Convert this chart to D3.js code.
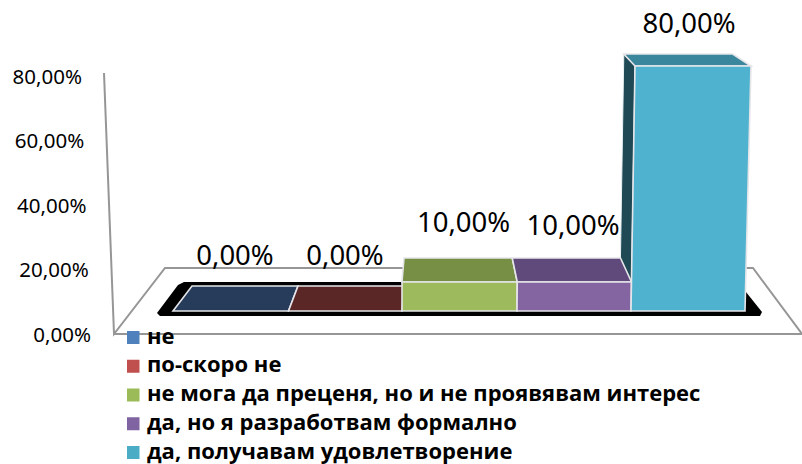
<!DOCTYPE html>
<html><head><meta charset="utf-8">
<script src="https://cdn.jsdelivr.net/npm/d3@7"></script>
<style>html,body{margin:0;padding:0;background:#fff}svg{display:block}
text{font-family:"Noto Sans",sans-serif;fill:#000}</style></head>
<body><svg id="c" width="802" height="464"></svg>
<script>
const categories=["не","по-скоро не","не мога да преценя, но и не проявявам интерес","да, но я разработвам формално","да, получавам удовлетворение"];
const values=[0,0,10,10,80];
const valueLabels=["0,00%","0,00%","10,00%","10,00%","80,00%"];
const tickValues=[0,20,40,60,80];
const swatch=["#4F81BD","#C0504D","#9BBB59","#8064A2","#4BACC6"];
const frontCol=["#4F81BD","#C0504D","#9DBB5C","#8465A1","#4FB2CE"];
const topCol=["#263C5A","#5B2626","#768F44","#604A7B","#3A869D"];
const sideCol=["#1F3045","#451D1D","#5A6E34","#4A395F","#1F4A55"];
const edgeIdx=[0,1,2,3,4,5];
const frontEdges=[173,288.5,402,517,631,745];
const backEdges=[192,298,404,512,620,727];

const svg=d3.select("#c");
const frontX=d3.scaleOrdinal(edgeIdx,frontEdges);
const backX=d3.scaleOrdinal(edgeIdx,backEdges);
const frontY=d3.scaleLinear([0,10,80],[311,282,66]);
const backY=d3.scaleLinear([0,10,80],[286,258,54]);
const persp=d3.scaleLinear([0,80],[0,0.0175]);
const px=(x,v)=>x+(x-403)*persp(v);
const line=d3.line();
const grey="#969696";

// walls and floor
svg.append("path").attr("d",line([[104,73],[114,334],[165,268],[405,268]])).attr("fill","none").attr("stroke",grey).attr("stroke-width",2);
svg.append("path").attr("d",line([[745,268],[753,268],[802,334],[114,334]])).attr("fill","none").attr("stroke",grey).attr("stroke-width",2);
// base shadow
svg.append("path").attr("d",line([[157,313],[178,285],[184,282],[740,282],[746,292],[762,312],[760,316],[160,316]])+"Z").attr("fill","#000");

// y axis
const y=d3.scaleLinear([0,80],[335,77]);
const tickX=d3.scaleLinear([0,80],[91,82]);
const ax=svg.append("g").call(d3.axisLeft(y).tickValues(tickValues).tickSize(0).tickPadding(0).tickFormat(d=>d3.format(".2f")(d).replace(".",",")+"%"));
ax.select(".domain").remove();
ax.selectAll(".tick").attr("transform",d=>`translate(${tickX(d)},${y(d)})`);
ax.selectAll("text").style("font-family",'"Noto Sans",sans-serif').style("font-size","20.5px").attr("fill","#000").attr("x",0).attr("dy","0.34em");

// bars
const idx=d3.range(values.length);
const g=svg.append("g");
const pt=i=>{const v=values[i];return {
  fl:[px(frontX(i),v),frontY(v)],fr:[px(frontX(i+1),v),frontY(v)],
  bl:[px(backX(i),v),backY(v)],br:[px(backX(i+1),v),backY(v)],
  fl0:[frontX(i),frontY(0)],fr0:[frontX(i+1),frontY(0)],bl0:[backX(i),backY(0)]};};
g.selectAll(".side").data(idx.filter(i=>values[i]>=80)).join("path").attr("class","side")
 .attr("d",i=>{const p=pt(i);return line([p.bl,p.bl0,p.fl0,p.fl])+"Z";}).attr("fill",i=>sideCol[i]).attr("stroke","#e8f0f2").attr("stroke-width",1);
const st={stroke:"#e6e6ea","stroke-width":1.6};
g.selectAll(".top").data(idx).join("path").attr("class","top")
 .attr("d",i=>{const p=pt(i);return line([p.bl,p.br,p.fr,p.fl])+"Z";}).attr("fill",i=>topCol[i]).attr("stroke",st.stroke).attr("stroke-width",st["stroke-width"]);
g.selectAll(".front").data(idx.filter(i=>values[i]>0)).join("path").attr("class","front")
 .attr("d",i=>{const p=pt(i);return line([p.fl,p.fr,p.fr0,p.fl0])+"Z";}).attr("fill",i=>frontCol[i]).attr("stroke",st.stroke).attr("stroke-width",st["stroke-width"]);

// data labels
const labelX=d3.scaleOrdinal(idx,[235,345,463.5,573,689]);
const labelY=d3.scaleOrdinal(idx,[265,265,232,235,33]);
svg.selectAll(".dl").data(idx).join("text").attr("class","dl").attr("x",i=>labelX(i)).attr("y",i=>labelY(i))
 .attr("text-anchor","middle").style("font-size","27.5px").text(i=>valueLabels[i]);

// legend
const legY=d3.scalePoint(idx,[337,452]);
const leg=svg.selectAll(".leg").data(idx).join("g").attr("class","leg").attr("transform",i=>`translate(127,${legY(i)})`);
leg.append("rect").attr("x",0).attr("y",-6).attr("width",12.5).attr("height",13).attr("fill",i=>swatch[i]);
leg.append("text").attr("x",20).attr("y",6.5).style("font-size","22px").style("font-weight","700").style("font-family",'"Open Sans",sans-serif').text(i=>categories[i]);
</script></body></html>
